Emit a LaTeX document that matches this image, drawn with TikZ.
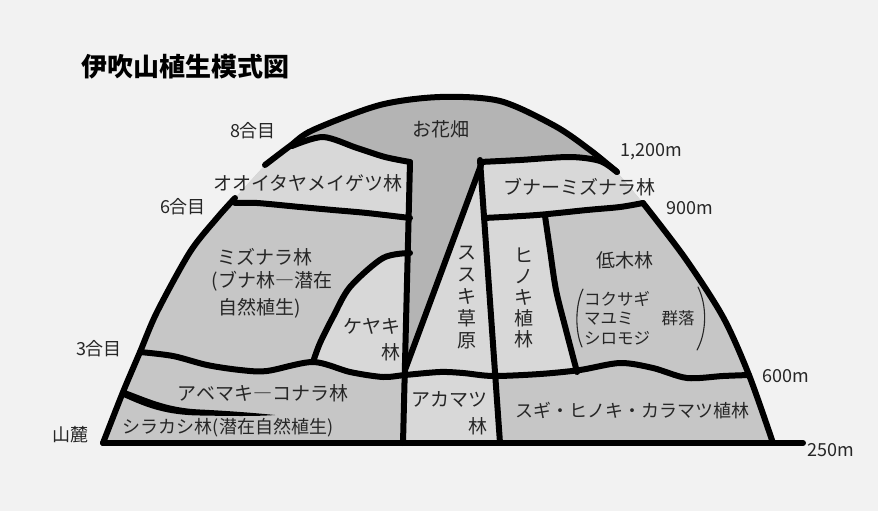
\documentclass[tikz,border=0pt]{standalone}
\usepackage{fontspec}
\setmainfont{Noto Sans CJK JP}
\definecolor{bgc}{HTML}{F2F2F2}
\definecolor{darkg}{HTML}{B4B4B4}
\definecolor{midg}{HTML}{C6C6C6}
\definecolor{lightg}{HTML}{D8D8D8}
\tikzset{
  bound/.style={line width=6pt, line cap=round, line join=round, draw=black},
  lbl/.style={inner sep=0pt, text=black!85, font=\fontsize{19}{22}\selectfont},
  lbls/.style={inner sep=0pt, text=black!85, font=\fontsize{18}{21}\selectfont},
  lblxs/.style={inner sep=0pt, text=black!85, font=\fontsize{16.5}{19.5}\selectfont},
  num/.style={inner sep=0pt, text=black!85, font=\fontsize{18}{21}\selectfont},
  paren/.style={line width=1.1pt, draw=black!85, line cap=round}
}
\begin{document}
\begin{tikzpicture}[x=1pt,y=-1pt]
\fill[bgc] (0,0) rectangle (878,511);
\useasboundingbox (0,0) rectangle (878,511);

% ---------- region fills, clipped to the mountain outline ----------
\begin{scope}
\clip plot[smooth] coordinates {(103,443) (123,392) (140,352) (157,312) (190,252) (217,218) (235,198)}
  -- (265,165)
  -- plot[smooth] coordinates {(265,165) (290,146) (313,130) (380,105) (440,97) (500,101) (555,126) (590,150) (617,172)}
  -- plot[smooth] coordinates {(643,203) (685,258) (723,317) (749,375) (773,443)}
  -- cycle;
\fill[midg] (0,0) rectangle (878,511);
% Keyaki (light)
\fill[lightg] plot[smooth] coordinates {(410,253) (383,258) (350,287) (333,317) (320,343) (313,362)}
  -- (313,400) -- (405,400) -- cycle;
% Susuki (light)
\fill[lightg] (481,165) -- (405,370) -- (405,400) -- (498,400) -- cycle;
% Hinoki (light)
\fill[lightg] (484,218) -- (545,216)
  -- plot[smooth] coordinates {(545,216) (550,250) (556,290) (566,330) (577,372)}
  -- (577,400) -- (498,400) -- cycle;
% everything below the 3/600 line back to mid grey
\fill[midg] plot[smooth] coordinates {(140,352) (173,356) (207,365) (240,370) (267,371) (313,362) (350,372) (383,377) (405,375) (440,372) (463,373) (493,376) (540,374) (580,370) (620,363) (653,368) (687,378) (723,376) (749,375)}
  -- (790,378) -- (790,470) -- (90,470) -- (90,352) -- cycle;
% Akamatsu (light)
\fill[lightg] (404.6,374) -- (495.3,374) -- (500,443) -- (403,443) -- cycle;
% Ohanabatake + funnel (dark)
\fill[darkg] (240,60) -- (240,146)
  -- plot[smooth] coordinates {(292,146) (323,137) (357,148) (385,157) (410,162)}
  -- (405,370) -- (481,165)
  -- plot[smooth] coordinates {(480,162) (520,160) (570,157) (600,161) (617,172)}
  -- (640,172) -- (640,60) -- cycle;
% Ooitaya (light)
\fill[lightg] (200,140)
  -- plot[smooth] coordinates {(292,146) (323,137) (357,148) (385,157) (410,162)}
  -- (410,218)
  -- plot[smooth] coordinates {(410,218) (367,213) (333,210) (300,207) (257,203) (235,203)}
  -- (200,203) -- cycle;
% Buna-Mizunara (light)
\fill[lightg] plot[smooth] coordinates {(480,162) (520,160) (570,157) (600,161) (617,172)}
  -- (660,172) -- (660,203)
  -- plot[smooth] coordinates {(643,203) (620,207) (587,210) (537,215) (484,218)}
  -- cycle;
\end{scope}

% ---------- boundary lines ----------
\draw[bound] plot[smooth] coordinates {(103,443) (123,392) (140,352) (157,312) (190,252) (217,218) (235,198)};
\draw[bound] plot[smooth] coordinates {(265,165) (290,146) (313,130) (380,105) (440,97) (500,101) (555,126) (590,150) (617,172)};
\draw[bound] plot[smooth] coordinates {(643,203) (685,258) (723,317) (749,375) (773,443)};
\draw[bound] (103,443) -- (803,443);
\draw[bound] plot[smooth] coordinates {(292,146) (323,137) (357,148) (385,157) (410,162)};
\draw[bound] plot[smooth] coordinates {(235,203) (257,203) (300,207) (333,210) (367,213) (410,218)};
\draw[bound] plot[smooth] coordinates {(480,162) (520,160) (570,157) (600,161) (617,172)};
\draw[bound] plot[smooth] coordinates {(484,218) (537,215) (587,210) (620,207) (643,203)};
\draw[bound] plot[smooth] coordinates {(545,216) (550,250) (556,290) (566,330) (577,372)};
\draw[bound] plot[smooth] coordinates {(410,253) (383,258) (350,287) (333,317) (320,343) (313,362)};
\draw[bound] plot[smooth] coordinates {(140,352) (173,356) (207,365) (240,370) (267,371) (313,362) (350,372) (383,377) (405,375) (440,372) (463,373) (493,376) (540,374) (580,370) (620,363) (653,368) (687,378) (723,376) (749,375)};
\draw[bound] (410,162) -- (403,443);
\draw[bound] (480,160) -- (500,443);
\draw[bound] (481,165) -- (405,370);
% tapered Shirakashi line
\fill[black] (122,389) .. controls (145,397) and (165,408) .. (200,409.5)
  .. controls (230,411) and (255,413) .. (275,415)
  .. controls (255,416.5) and (230,416) .. (200,415.5)
  .. controls (160,415) and (140,404) .. (121,396) -- cycle;
% parentheses in the shrub area
\draw[paren] (583,289) .. controls (575,305) and (575,332) .. (582,347);
\draw[paren] (698,287) .. controls (707,305) and (707,332) .. (697,350);

% ---------- labels ----------
\node[inner sep=0pt, font=\fontsize{26}{28}\selectfont\bfseries] (title) at (185,67) {伊吹山植生模式図};
\node[lbls] (g8) at (253,131) {8合目};
\node[lbls] (g6) at (183,207) {6合目};
\node[lbls] (g3) at (99,349) {3合目};
\node[lbls] (foot) at (70,435) {山麓};
\node[lbl] (hana) at (441,129) {お花畑};
\node[lbl] (ooita) at (308,183) {オオイタヤメイゲツ林};
\node[num] (m1200) at (651,152) {1,200m};
\node[lbl] (buna) at (579,187) {ブナーミズナラ林};
\node[num] (m900) at (690,208) {900m};
\node[lbl] (mizu1) at (265,257) {ミズナラ林};
\node[lbl] (mizu2) at (272,281) {(ブナ林―潜在};
\node[lbl] (mizu3) at (260,308) {自然植生)};
\node[lbl, align=center, font=\fontsize{19}{22}\selectfont] (susuki) at (467,298) {ス\\ス\\キ\\草\\原};
\node[lbl, align=center, font=\fontsize{19}{21}\selectfont] (hinoki) at (524,298) {ヒ\\ノ\\キ\\植\\林};
\node[lbl] (teiboku) at (625,260) {低木林};
\node[lblxs, anchor=west, align=left] (kokusagi) at (584,318) {コクサギ\\マユミ\\シロモジ};
\node[lblxs] (gunraku) at (678,318) {群落};
\node[lbl, anchor=east, align=right, font=\fontsize{19}{26}\selectfont] (keyaki) at (401,340) {ケヤキ\\林};
\node[num] (m600) at (786,376) {600m};
\node[lbl] (abemaki) at (263,393) {アベマキ―コナラ林};
\node[lbls] (shirakashi) at (228,428) {シラカシ林(潜在自然植生)};
\node[lbl, anchor=east, align=right, font=\fontsize{19}{27}\selectfont] (akamatsu) at (488,413) {アカマツ\\林};
\node[lbls] (sugi) at (632,411) {スギ・ヒノキ・カラマツ植林};
\node[num] (m250) at (831,450) {250m};
\end{tikzpicture}
\end{document}
